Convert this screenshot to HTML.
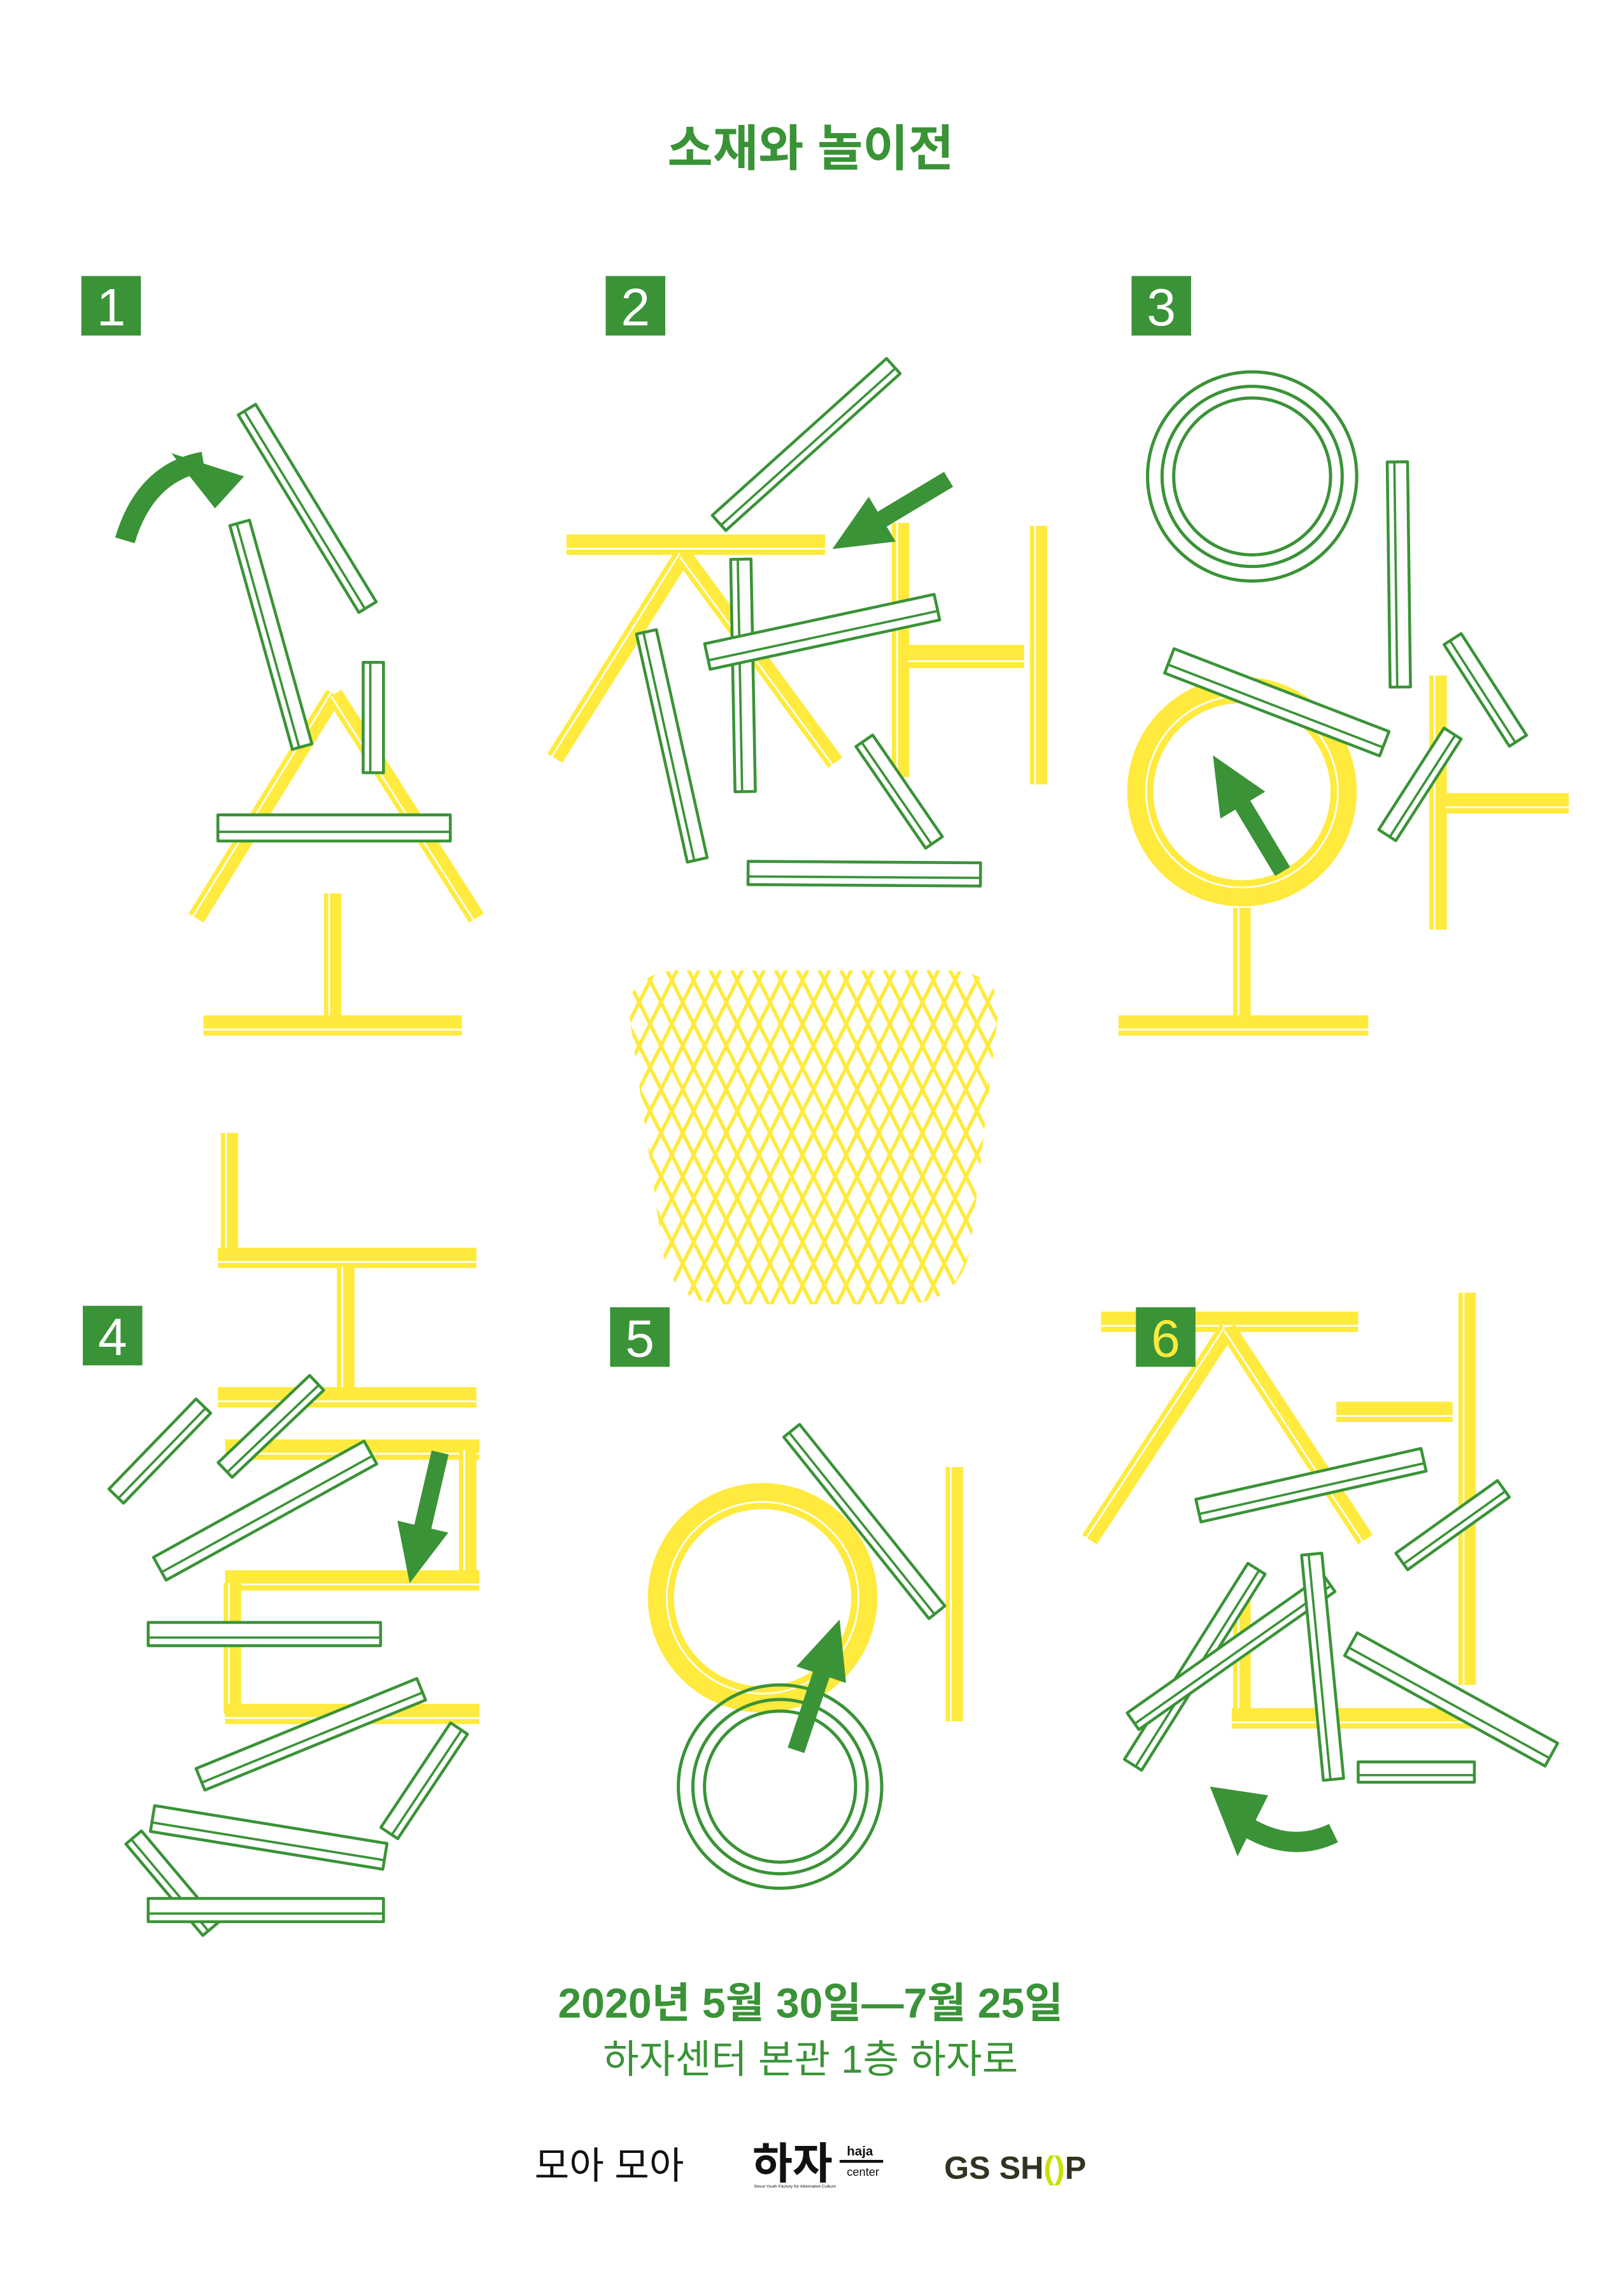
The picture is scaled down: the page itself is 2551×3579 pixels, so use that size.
<!DOCTYPE html>
<html><head><meta charset="utf-8"><style>
html,body{margin:0;padding:0;background:#fff;}
svg{display:block;}
text{font-family:"Liberation Sans","Noto Sans CJK KR",sans-serif;}
</style></head>
<body>
<svg id="poster" width="2551" height="3579" viewBox="0 0 1118 1569" preserveAspectRatio="none" xmlns="http://www.w3.org/2000/svg">
<defs>
<clipPath id="netclip"><path d="M432,690 Q440,668 470,668 L650,668 Q682,668 688,690 L668,860 Q660,898 620,898 L500,898 Q462,898 456,860 Z"/></clipPath>
</defs>
<rect width="1118" height="1569" fill="#fff"/>
<text x="558" y="114" text-anchor="middle" font-size="34" font-weight="bold" fill="#3a9337">소재와 놀이전</text>
<g id="net" clip-path="url(#netclip)"></g>
<g id="yellow"></g>
<g id="green"></g>
<g id="boxes"></g>
<text x="558" y="1389" text-anchor="middle" font-size="29" font-weight="bold" fill="#3a9337">2020년 5월 30일—7월 25일</text>
<text x="558" y="1427" text-anchor="middle" font-size="27" fill="#3a9337">하자센터 본관 1층 하자로</text>
<text x="368" y="1500" font-size="26" fill="#111">모아 모아</text>
<g>
<text x="518" y="1500" font-size="30" font-weight="bold" fill="#111">하자</text>
<text x="583" y="1484" font-size="9" font-weight="bold" fill="#111">haja</text>
<rect x="578" y="1487" width="30" height="2" fill="#111"/>
<text x="583" y="1498" font-size="8" fill="#111">center</text>
<text x="519" y="1506" font-size="3" fill="#111">Seoul Youth Factory for Alternative Culture</text>
</g>
<text x="650" y="1500" font-size="22" font-weight="bold" fill="#333322">GS SH<tspan fill="#c8e000">()</tspan>P</text>
</svg>
<script>
const NS="http://www.w3.org/2000/svg";
const G="#3a9337",Y="#ffea3d";
// yellow letter bars: x1,y1,x2,y2,width
const yellowBars=[
[230,478,135,632,12],[230,478,328,632,12],[229,615,229,700,12],[140,706,318,706,14],
[390,375,568,375,14],[470,382,382,522,12],[470,382,575,525,12],[620,360,620,535,12],[715,362,715,540,12],[625,452,705,452,16],
[855,625,855,700,12],[770,706,942,706,14],[990,465,990,640,12],[995,553,1080,553,14],
[158,780,158,860,12],[150,866,328,866,14],[238,872,238,955,12],[150,962,328,962,14],
[155,998,330,998,14],[322,998,322,1088,12],[155,1088,330,1088,14],[160,1090,160,1180,12],[155,1180,330,1180,14],
[657,1010,657,1185,12],
[758,910,935,910,14],[845,915,750,1060,12],[845,915,940,1060,12],[1010,890,1010,1160,12],[920,972,1000,972,14],[855,1100,855,1178,12],[848,1183,1020,1183,14]
];
// yellow rings: cx,cy,r
const yellowRings=[[855,545,70],[525,1100,70]];
// green sticks: x1,y1,x2,y2,width
const greenSticks=[
[170,282,253,418,14],[165,360,208,514,14],[257,456,257,532,14],[150,570,310,570,18],
[495,360,615,252,14],[510,385,513,545,14],[487,452,645,418,18],[445,435,480,592,14],[595,510,643,580,14],[515,601,675,602,16],
[962,318,964,473,14],[805,455,953,512,18],[1000,440,1045,510,14],[955,575,1000,505,14],
[80,1030,140,968,14],[155,1012,218,952,14],[110,1080,255,1000,18],[102,1125,262,1125,16],[138,1225,290,1163,16],[268,1262,316,1190,14],[105,1252,265,1278,18],[92,1265,145,1328,14],[102,1315,264,1315,16],
[545,985,645,1110,14],
[825,1040,980,1005,16],[965,1075,1035,1025,14],[780,1215,865,1080,14],[780,1185,915,1090,14],[903,1070,918,1225,14],[930,1132,1068,1208,18],[935,1220,1015,1220,14]
];
// green rings: cx,cy,r
const greenRings=[[862,328,72],[537,1230,70]];
// straight arrows: tailx,taily,headx,heady
const arrows=[[653,330,573,378],[883,600,835,520],[303,1000,282,1090],[548,1205,578,1115]];
// number boxes: label,x,y
const boxes=[["1",56,190],["2",417,190],["3",779,190],["4",57,899],["5",420,900],["6",782,900]];

const yl=document.getElementById('yellow'),gl=document.getElementById('green'),bx=document.getElementById('boxes'),net=document.getElementById('net');
function mk(tag,attrs,parent){const e=document.createElementNS(NS,tag);for(const k in attrs)e.setAttribute(k,attrs[k]);parent.appendChild(e);return e;}

for(let i=-200;i<400;i+=15){
 const l1=mk('line',{x1:430+i,y1:660,x2:430+i+125,y2:910,stroke:Y,'stroke-width':2.5},net);
 
 
 const l2=mk('line',{x1:690-i,y1:660,x2:690-i-125,y2:910,stroke:Y,'stroke-width':2.5},net);
 
 
}
yellowBars.forEach(b=>{
 const l=mk('line',{x1:b[0],y1:b[1],x2:b[2],y2:b[3],stroke:Y,'stroke-width':b[4],'stroke-linecap':'butt'},yl);
 
 
 const dx=b[2]-b[0],dy=b[3]-b[1],L=Math.hypot(dx,dy),nx=-dy/L,ny=dx/L,o=b[4]*0.2;
 const w=mk('line',{x1:b[0]+nx*o,y1:b[1]+ny*o,x2:b[2]+nx*o,y2:b[3]+ny*o,stroke:'#fff','stroke-width':1.2},yl);
 
 
});
yellowRings.forEach(r=>{
 const c=mk('circle',{cx:r[0],cy:r[1],r:r[2],fill:'none',stroke:Y,'stroke-width':18},yl);
 
 
 const c2=mk('circle',{cx:r[0],cy:r[1],r:r[2]-4,fill:'none',stroke:'#fff','stroke-width':1.2},yl);
 
 
});
greenRings.forEach(r=>{
 [0,10,18].forEach(d=>{
  const c=mk('circle',{cx:r[0],cy:r[1],r:r[2]-d,fill:'none',stroke:G,'stroke-width':2.2},gl);
  
  
 });
});
greenSticks.forEach(s=>{
 const dx=s[2]-s[0],dy=s[3]-s[1],L=Math.hypot(dx,dy),nx=-dy/L,ny=dx/L,h=s[4]/2;
 const p=[[s[0]+nx*h,s[1]+ny*h],[s[2]+nx*h,s[3]+ny*h],[s[2]-nx*h,s[3]-ny*h],[s[0]-nx*h,s[1]-ny*h]];
 const pg=mk('polygon',{points:p.map(q=>q.join(',')).join(' '),fill:'#fff',stroke:G,'stroke-width':2,'stroke-linejoin':'round'},gl);
 
 
 const o=h*0.3;
 const ln=mk('line',{x1:s[0]+nx*o,y1:s[1]+ny*o,x2:s[2]+nx*o,y2:s[3]+ny*o,stroke:G,'stroke-width':1.6},gl);
 
 
});
arrows.forEach(a=>{
 const dx=a[2]-a[0],dy=a[3]-a[1],L=Math.hypot(dx,dy),ux=dx/L,uy=dy/L,nx=-uy,ny=ux;
 const bxp=a[2]-ux*40,byp=a[3]-uy*40;
 const pts=[[a[0]+nx*6,a[1]+ny*6],[bxp+nx*6,byp+ny*6],[bxp+nx*18,byp+ny*18],[a[2],a[3]],[bxp-nx*18,byp-ny*18],[bxp-nx*6,byp-ny*6],[a[0]-nx*6,a[1]-ny*6]];
 const pg=mk('polygon',{points:pts.map(q=>q.join(',')).join(' '),fill:G},gl);
 
 
});
const c1=mk('path',{d:'M86,372 Q100,325 140,318',fill:'none',stroke:G,'stroke-width':14},gl);


const h1=mk('polygon',{points:'118,312 168,328 148,350',fill:G},gl);


const c2=mk('path',{d:'M918,1262 Q885,1278 850,1252',fill:'none',stroke:G,'stroke-width':14},gl);


const h2=mk('polygon',{points:'833,1230 873,1236 852,1278',fill:G},gl);


boxes.forEach(b=>{
 const r=mk('rect',{x:b[1],y:b[2],width:41,height:41,fill:G},bx);
 
 
 const t=mk('text',{x:b[1]+20.5,y:b[2]+34,'text-anchor':'middle','font-size':36,fill:b[0]==='6'?'#ffea3d':'#fff'},bx);
 t.textContent=b[0];
 
 
});
</script>
</body></html>
